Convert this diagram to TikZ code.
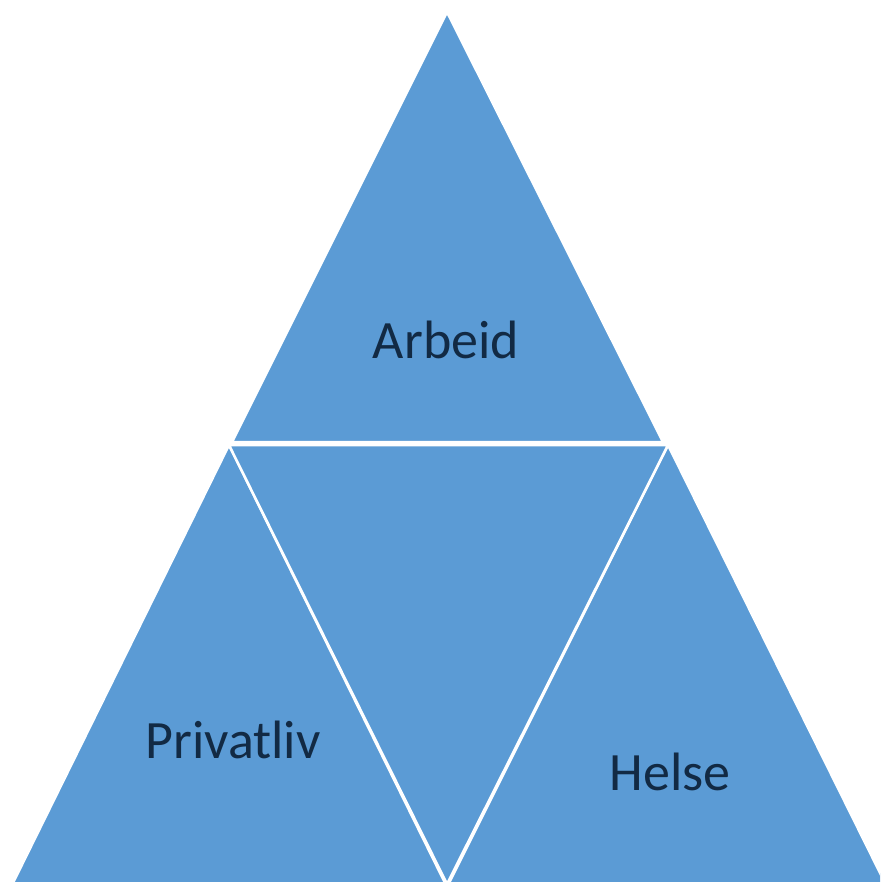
\documentclass[tikz,border=0pt]{standalone}
\usepackage{fontspec}
\setmainfont{Carlito}
\definecolor{facetblue}{RGB}{91,155,213}
\definecolor{labelnavy}{RGB}{18,42,68}

\begin{document}
\begin{tikzpicture}[x=1pt, y=-1pt,
                    facet/.style={fill=facetblue, draw=white, line width=2.5pt, line join=miter},
                    main label/.style={anchor=base, inner sep=0pt, text=labelnavy,
                                       font=\fontsize{54}{60}\selectfont}]

  \useasboundingbox (0,0) rectangle (880,882);
  \clip (0,0) rectangle (880,882);

  \path[facet] (447,12) -- (232,442) -- (663,442) -- cycle;
  \path[facet] (229,445) -- (11,887) -- (447,887) -- cycle;
  \path[facet] (668,445) -- (447,887) -- (887,887) -- cycle;
  \path[facet] (229,445) -- (668,445) -- (447,884) -- cycle;

  \node[main label] (arbeid) at (446,358) {Arbeid};
  \node[main label] (privatliv) [at={(233,758)}] {Privatliv};
  \node[main label] (helse) [at={(670,790)}] {Helse};
\end{tikzpicture}
\end{document}
